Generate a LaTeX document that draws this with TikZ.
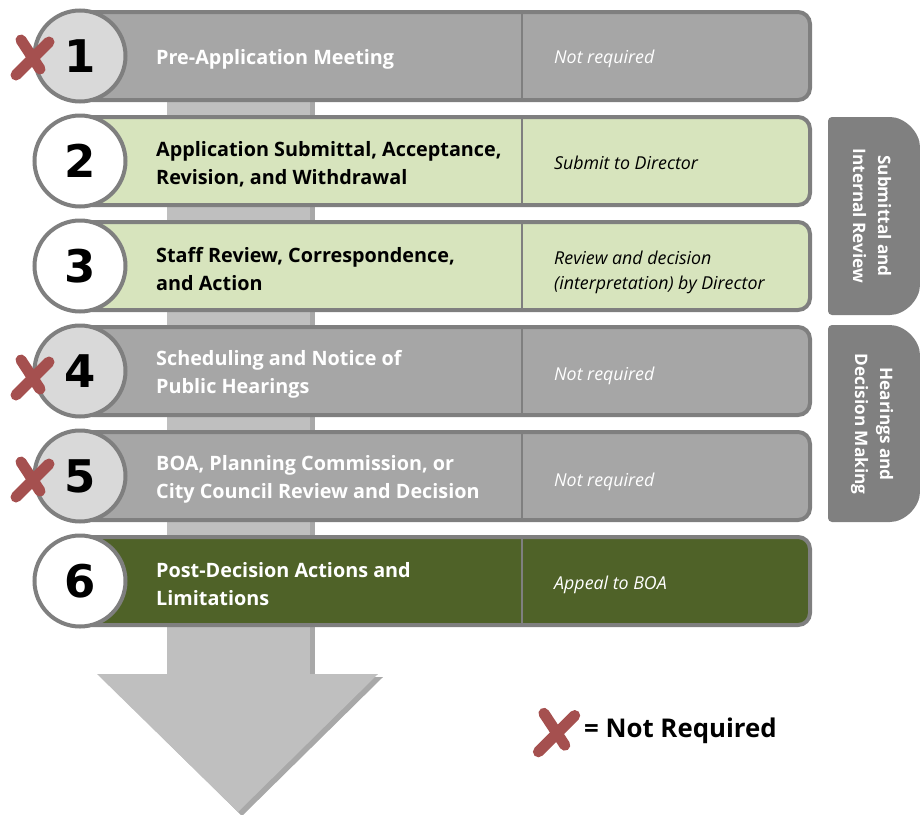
\documentclass[tikz,border=0pt]{standalone}
\usepackage{fontspec}
\setmainfont{Open Sans}
\newfontfamily\numfont{DejaVu Sans}
\usetikzlibrary{positioning}

\definecolor{edgegrey}{HTML}{7F7F7F}
\definecolor{boxgrey}{HTML}{A6A6A6}
\definecolor{circgrey}{HTML}{D9D9D9}
\definecolor{lightgreen}{HTML}{D7E4BD}
\definecolor{darkgreen}{HTML}{4F6228}
\definecolor{tabgrey}{HTML}{808080}
\definecolor{arrowgrey}{HTML}{BFBFBF}
\definecolor{shadowgrey}{HTML}{A8A8A8}
\definecolor{xred}{HTML}{A5504F}

\tikzset{
  redx/.pic={
    \draw[xmark] (-16,18) -- (17,-15);
    \draw[xmark] (-11,-17) -- (8,12);
  }
}

\begin{document}
\begin{tikzpicture}[x=1pt, y=-1pt,
    rowbox/.style={rectangle, rounded corners=12pt, draw=edgegrey, line width=4pt, minimum width=730pt, minimum height=88pt, inner sep=0pt},
    numcircle/.style={circle, draw=edgegrey, line width=4pt, minimum size=91pt, inner sep=0pt, font=\numfont\bfseries\fontsize{45}{45}\selectfont},
    title/.style={anchor=west, align=left, inner sep=0pt, font=\bfseries\fontsize{19.8}{28}\selectfont},
    note/.style={anchor=west, align=left, inner sep=0pt, font=\itshape\fontsize{17.8}{25}\selectfont},
    divider/.style={draw=edgegrey, line width=2.5pt},
    tablabel/.style={rotate=-90, align=center, text=white, inner sep=0pt, font=\bfseries\fontsize{17.2}{25}\selectfont},
    xmark/.style={draw=xred, line width=11pt, line cap=round}
]
\useasboundingbox (0,0) rectangle (920,814);
\coordinate (split) at (522,0);

% big arrow behind the rows
\fill[shadowgrey] (171,40) rectangle (315,677);
\fill[shadowgrey] (101,677) -- (383,677) -- (242,816) -- cycle;
\fill[arrowgrey] (167,40) rectangle (310,675);
\fill[arrowgrey] (97,674) -- (378,674) -- (238,812) -- cycle;

% rows
\node[rowbox, fill=boxgrey] (r1) at (445,56) {};
\draw[divider] (r1.north -| split) -- (r1.south -| split);
\node[numcircle, fill=circgrey] (c1) at (80,56) {1};
\node[title, text=white] (t1) at (156,59) {Pre-Application Meeting};
\node[note, text=white] (n1) at (554,59) {Not required};

\node[rowbox, fill=lightgreen] (r2) at (445,161) {};
\draw[divider] (r2.north -| split) -- (r2.south -| split);
\node[numcircle, fill=white] (c2) at (80,161) {2};
\node[title] (t2) at (156,164) {Application Submittal, Acceptance,\\Revision, and Withdrawal};
\node[note] (n2) at (554,163) {Submit to Director};

\node[rowbox, fill=lightgreen] (r3) at (445,266) {};
\draw[divider] (r3.north -| split) -- (r3.south -| split);
\node[numcircle, fill=white] (c3) at (80,266) {3};
\node[title] (t3) at (156,269) {Staff Review, Correspondence,\\and Action};
\node[note] (n3) at (554,272) {Review and decision\\(interpretation) by Director};

\node[rowbox, fill=boxgrey] (r4) at (445,371) {};
\draw[divider] (r4.north -| split) -- (r4.south -| split);
\node[numcircle, fill=circgrey] (c4) at (80,371) {4};
\node[title, text=white] (t4) at (156,374) {Scheduling and Notice of\\Public Hearings};
\node[note, text=white] (n4) at (554,376) {Not required};

\node[rowbox, fill=boxgrey] (r5) at (445,476) {};
\draw[divider] (r5.north -| split) -- (r5.south -| split);
\node[numcircle, fill=circgrey] (c5) at (80,476) {5};
\node[title, text=white] (t5) at (156,479) {BOA, Planning Commission, or\\City Council Review and Decision};
\node[note, text=white] (n5) at (554,482) {Not required};

\node[rowbox, fill=darkgreen] (r6) at (445,581) {};
\draw[divider] (r6.north -| split) -- (r6.south -| split);
\node[numcircle, fill=white] (c6) at (80,581) {6};
\node[title, text=white] (t6) at (156,584) {Post-Decision Actions and\\Limitations};
\node[note, text=white] (n6) at (554,585) {Appeal to BOA};

% not required marks
\pic at (32,57) {redx};
\pic at (32,377) {redx};
\pic at (32,479) {redx};

% side tabs
\fill[tabgrey, rounded corners=4pt] (828,117) -- (886,117) arc[start angle=-90, end angle=0, radius=34] -- (920,281) arc[start angle=0, end angle=90, radius=34] -- (828,315) -- cycle;
\node[tablabel] (tabsub) at (872,216) {Submittal and\\Internal Review};
\fill[tabgrey, rounded corners=4pt] (828,325) -- (886,325) arc[start angle=-90, end angle=0, radius=34] -- (920,488) arc[start angle=0, end angle=90, radius=34] -- (828,522) -- cycle;
\node[tablabel] (tabhear) at (872,424) {Hearings and\\Decision Making};

% legend
\pic[scale=1.1] at (556,732) {redx};
\node[anchor=west, inner sep=0pt, font=\bfseries\fontsize{25.8}{26}\selectfont] (legend) at (584,731) {= Not Required};
\end{tikzpicture}
\end{document}
